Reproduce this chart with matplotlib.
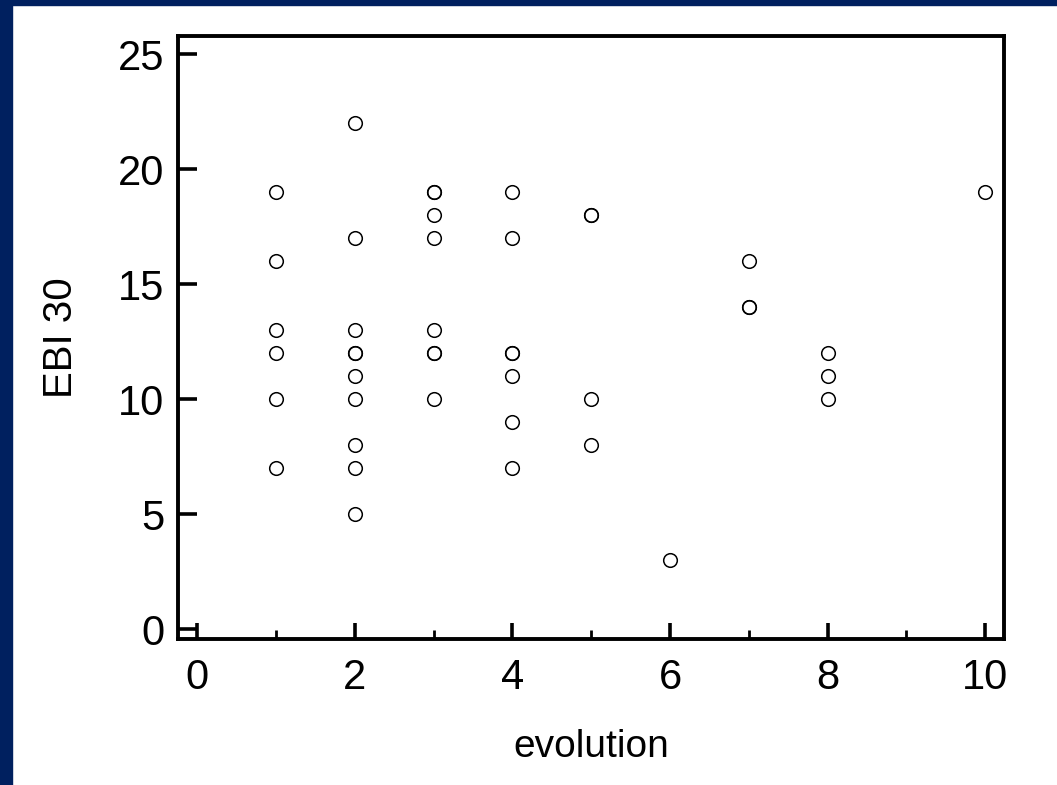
import matplotlib.pyplot as plt
from matplotlib.ticker import MultipleLocator
import matplotlib.patches as patches

# data (repeated pairs drawn twice)
evolution = [1, 1, 1, 1, 1, 1,
             2, 2, 2, 2, 2, 2, 2, 2, 2, 2,
             3, 3, 3, 3, 3, 3, 3, 3,
             4, 4, 4, 4, 4, 4, 4,
             5, 5, 5, 5,
             6,
             7, 7, 7,
             8, 8, 8,
             10]
ebi30 = [19, 16, 13, 12, 10, 7,
         22, 17, 13, 12, 12, 11, 10, 8, 7, 5,
         19, 19, 18, 17, 13, 12, 12, 10,
         19, 17, 12, 12, 11, 9, 7,
         18, 18, 10, 8,
         3,
         16, 14, 14,
         12, 11, 10,
         19]

plt.rcParams['font.family'] = ['Liberation Sans', 'DejaVu Sans']

fig = plt.figure(figsize=(10.57, 7.85), dpi=100)
navy = '#00205f'
# navy frame on the left and top edge
fig.patches.append(patches.Rectangle((0, 0), 12 / 1057, 1, transform=fig.transFigure,
                                     color=navy, zorder=-1))
fig.patches.append(patches.Rectangle((0, 1 - 5 / 785), 1, 5 / 785, transform=fig.transFigure,
                                     color=navy, zorder=-1))

ax = fig.add_axes([0.1684, 0.186, 0.7815, 0.768])
ax.plot(evolution, ebi30, linestyle='none', marker='o', markersize=9.8,
        markerfacecolor='none', markeredgecolor='black', markeredgewidth=1.1)

ax.set_xlim(-0.246, 10.24)
ax.set_ylim(-0.43, 25.78)
ax.xaxis.set_major_locator(MultipleLocator(2))
ax.xaxis.set_minor_locator(MultipleLocator(1))
ax.yaxis.set_major_locator(MultipleLocator(5))

for s in ax.spines.values():
    s.set_linewidth(2.8)

ax.tick_params(axis='y', direction='in', length=13.5, width=2.6, labelsize=30, pad=10)
ax.tick_params(axis='x', which='major', direction='in', length=11.5, width=2.6,
               labelsize=30, pad=14)
ax.tick_params(axis='x', which='minor', direction='in', length=6.5, width=2.0)

ax.set_xlabel('evolution', fontsize=28, labelpad=22)
ax.set_ylabel('EBI 30', fontsize=29, labelpad=27)

fig.savefig('out.png', dpi=100)
